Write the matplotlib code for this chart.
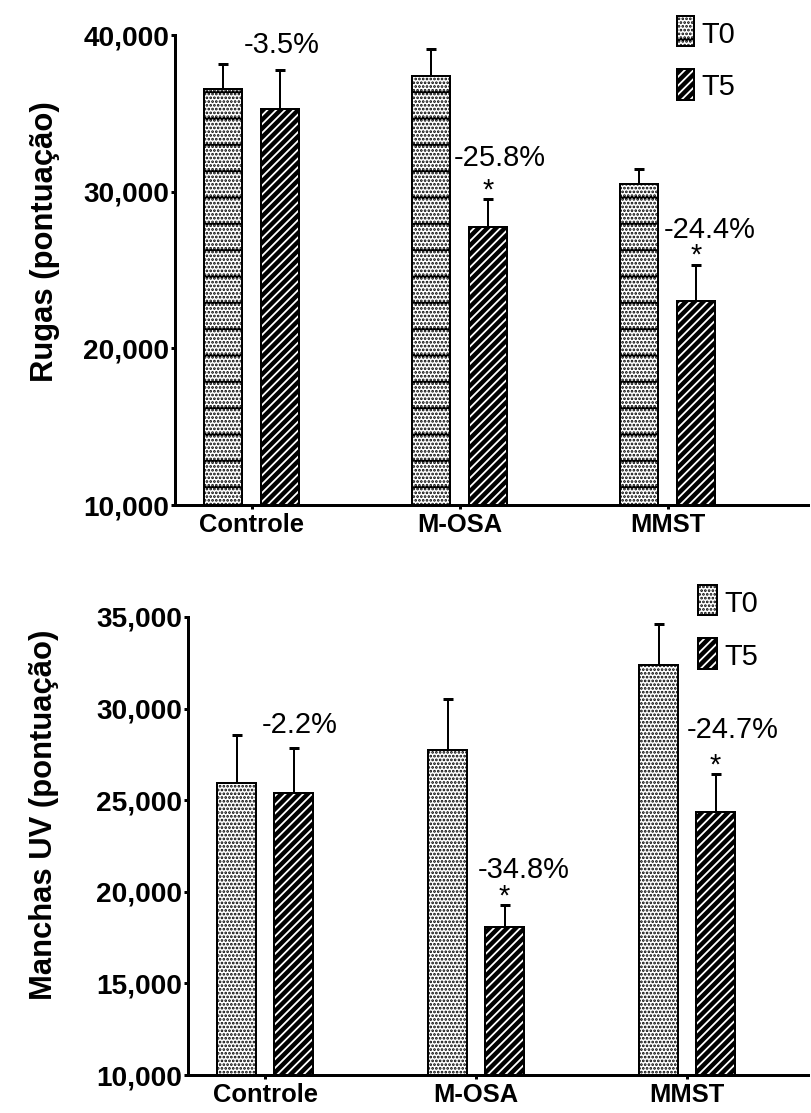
import numpy as np
import matplotlib
matplotlib.use('Agg')
import matplotlib.pyplot as plt
from matplotlib.patches import Rectangle

grupos = ['Controle', 'M-OSA', 'MMST']

# painel superior - rugas
rugas_t0 = [36530, 37380, 30470]
rugas_t0_err = [1610, 1700, 970]
rugas_t5 = [35250, 27760, 23040]
rugas_t5_err = [2490, 1750, 2280]
rugas_pct = ['-3.5%', '-25.8%', '-24.4%']
rugas_sig = [False, True, True]
rugas_ticks = [10000, 20000, 30000, 40000]

# painel inferior - manchas UV
manchas_t0 = [25960, 27760, 32370]
manchas_t0_err = [2610, 2790, 2250]
manchas_t5 = [25380, 18100, 24350]
manchas_t5_err = [2470, 1170, 2070]
manchas_pct = ['-2.2%', '-34.8%', '-24.7%']
manchas_sig = [False, True, True]
manchas_ticks = [10000, 15000, 20000, 25000, 30000, 35000]

DPI = 158  # tile do hatch = dpi px -> linhas horizontais ~26px
W, H = 811, 1113


def pt(px):
    return px * 72 / DPI


def fx(x):
    return x / W


def fy(y):
    return 1 - y / H


plt.rcParams['font.family'] = ['Liberation Sans', 'DejaVu Sans']
plt.rcParams['hatch.linewidth'] = pt(1.8)

fig = plt.figure(figsize=(W / DPI, H / DPI), dpi=DPI)


def painel(box, c0, gs, off, bw, t0, t0e, t5, t5e, pct, sig, pct_off,
           ylim, yticks, ylabel, ylab_xy, hatch0, leg):
    l, t, r, b = box
    ax = fig.add_axes([fx(l), fy(b), (r - l) / W, (b - t) / H])
    x = np.arange(len(grupos))
    o = off / gs
    w = bw / gs
    zeros = np.zeros(len(x))

    ax.errorbar(x - o, t0, yerr=[zeros, t0e], fmt='none', ecolor='black',
                elinewidth=pt(2), capsize=pt(5), capthick=pt(3), zorder=1)
    ax.errorbar(x + o, t5, yerr=[zeros, t5e], fmt='none', ecolor='black',
                elinewidth=pt(2), capsize=pt(5), capthick=pt(3), zorder=1)

    ax.bar(x - o, t0, w, color='white', edgecolor='black', linewidth=pt(2),
           hatch=hatch0, zorder=2)
    ax.bar(x + o, t5, w, color='black', edgecolor='white', linewidth=0,
           hatch='//////', zorder=2)
    ax.bar(x + o, t5, w, fill=False, edgecolor='black', linewidth=pt(2),
           zorder=3)

    for i in range(len(x)):
        cap = t5[i] + t5e[i]
        ax.annotate(pct[i], xy=(x[i] + o, cap), xytext=pct_off[i],
                    textcoords='offset pixels', ha='center', va='baseline',
                    fontsize=pt(29), annotation_clip=False)
        if sig[i]:
            ax.annotate('*', xy=(x[i] + o, cap), xytext=(0, 1),
                        textcoords='offset pixels', ha='center',
                        va='baseline', fontsize=pt(29))

    ax.set_xlim((l - c0) / gs, (r - c0) / gs)
    ax.set_ylim(*ylim)
    ax.set_yticks(yticks, labels=[f'{v:,}' for v in yticks],
                  fontweight='bold', fontsize=pt(28))
    ax.set_xticks(x, grupos, fontweight='bold', fontsize=pt(25.5))
    ax.tick_params(axis='y', length=pt(4), width=pt(3), pad=pt(2))
    ax.tick_params(axis='x', length=pt(4), width=pt(3), pad=pt(4))
    for s in ['top', 'right']:
        ax.spines[s].set_visible(False)
    for s in ['left', 'bottom']:
        ax.spines[s].set_linewidth(pt(3))

    fig.text(fx(ylab_xy[0]), fy(ylab_xy[1]), ylabel, rotation=90,
             ha='center', va='center', fontsize=pt(31), fontweight='bold')

    # legenda
    px0, px1, ys, tx, bases = leg
    for k, (y0, y1) in enumerate(ys):
        if k == 0:
            fig.add_artist(Rectangle((fx(px0), fy(y1)), (px1 - px0) / W,
                                     (y1 - y0) / H, transform=fig.transFigure,
                                     facecolor='white', edgecolor='black',
                                     linewidth=pt(2), hatch=hatch0))
        else:
            fig.add_artist(Rectangle((fx(px0), fy(y1)), (px1 - px0) / W,
                                     (y1 - y0) / H, transform=fig.transFigure,
                                     facecolor='black', edgecolor='white',
                                     linewidth=0, hatch='//////'))
            fig.add_artist(Rectangle((fx(px0), fy(y1)), (px1 - px0) / W,
                                     (y1 - y0) / H, transform=fig.transFigure,
                                     fill=False, edgecolor='black',
                                     linewidth=pt(2)))
        fig.text(fx(tx), fy(bases[k]), ['T0', 'T5'][k], ha='left',
                 va='baseline', fontsize=pt(29))
    return ax


painel((175, 35, 808, 505), 251.5, 208, 28.25, 38,
       rugas_t0, rugas_t0_err, rugas_t5, rugas_t5_err, rugas_pct, rugas_sig,
       [(2, 17), (12, 33), (14, 27)],
       (10000, 40000), rugas_ticks, 'Rugas (pontuação)', (45, 242),
       '.......-', (677, 694, [(16, 46), (69, 100)], 701, [43, 95]))

painel((188, 617, 808, 1075), 265, 211, 28.5, 39,
       manchas_t0, manchas_t0_err, manchas_t5, manchas_t5_err, manchas_pct,
       manchas_sig, [(6, 15), (19, 27), (17, 36)],
       (10000, 35000), manchas_ticks, 'Manchas UV (pontuação)',
       (44, 815), '.......', (698, 717, [(585, 615), (638, 669)], 724,
                              [612, 665]))

fig.savefig('out.png', dpi=DPI)
